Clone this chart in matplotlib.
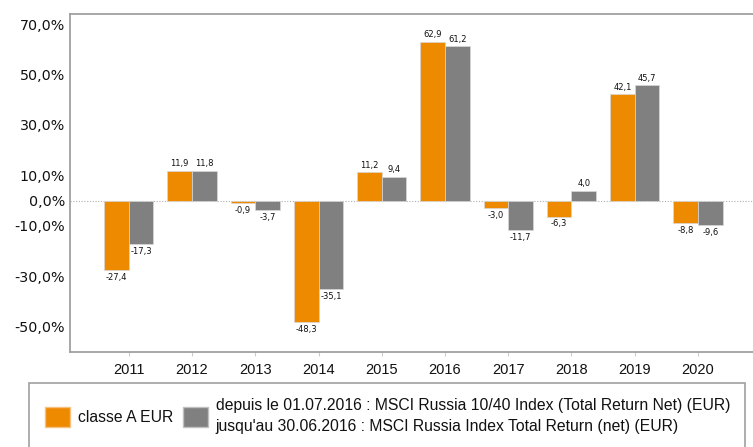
import matplotlib.pyplot as plt
from matplotlib import font_manager
from matplotlib.patches import Patch, Rectangle
import numpy as np

years = ['2011', '2012', '2013', '2014', '2015', '2016', '2017', '2018', '2019', '2020']
fund = [-27.4, 11.9, -0.9, -48.3, 11.2, 62.9, -3.0, -6.3, 42.1, -8.8]
index = [-17.3, 11.8, -3.7, -35.1, 9.4, 61.2, -11.7, 4.0, 45.7, -9.6]
yticks = [70, 50, 30, 10, 0, -10, -30, -50]
fund_label = 'classe A EUR'
index_label = ('depuis le 01.07.2016 : MSCI Russia 10/40 Index (Total Return Net) (EUR)\n'
               "jusqu'au 30.06.2016 : MSCI Russia Index Total Return (net) (EUR)")

orange = '#ee8a00'
grey = '#808080'

# narrow font if there is one, otherwise Liberation Sans a bit smaller
installed = {f.name for f in font_manager.fontManager.ttflist}
if 'Liberation Sans Narrow' in installed:
    narrow, leg_size, xt_size = 'Liberation Sans Narrow', 13, 12
else:
    narrow, leg_size, xt_size = 'Liberation Sans', 11.3, 10.5

fig = plt.figure(figsize=(7.53, 4.47), dpi=100)
ax = fig.add_axes([70 / 753, 1 - 352 / 447, 1 - 70 / 753, (352 - 14) / 447])

x = np.arange(len(years))
w = 0.39
b1 = ax.bar(x - w / 2, fund, w, color=orange, edgecolor='#d8d8d8', linewidth=0.5, zorder=3)
b2 = ax.bar(x + w / 2, index, w, color=grey, edgecolor='#d8d8d8', linewidth=0.5, zorder=3)

def fmt(v):
    return ('%.1f' % v).replace('.', ',')

for bars, vals in ((b1, fund), (b2, index)):
    for r, v in zip(bars, vals):
        cx = r.get_x() + r.get_width() / 2
        if v >= 0:
            ax.annotate(fmt(v), (cx, v), xytext=(0, 2), textcoords='offset points',
                        ha='center', va='bottom', fontsize=6, color='#111111')
        else:
            ax.annotate(fmt(v), (cx, v), xytext=(0, -2), textcoords='offset points',
                        ha='center', va='top', fontsize=6, color='#111111')

ax.axhline(0, color='#b0b0b0', lw=0.8, ls=(0, (1, 1.5)), zorder=1)

ax.set_xlim(-0.93, 9.87)
ax.set_ylim(-60, 74)
ax.set_yticks(yticks)
ax.set_yticklabels([fmt(t) + '%' for t in yticks], fontsize=10.3, color='#111111')
ax.tick_params(axis='y', length=0, pad=3.6)
ax.set_xticks(x)
ax.set_xticklabels(years, fontsize=xt_size, family=narrow, color='#111111')
ax.tick_params(axis='x', length=3, color='#cccccc', pad=5)

for s in ('top', 'left', 'bottom'):
    ax.spines[s].set_color('#a0a0a0')
    ax.spines[s].set_linewidth(1.3)
ax.spines['right'].set_visible(False)

# legend frame runs off the bottom of the picture
fig.patches.append(Rectangle((29 / 753, -0.1), (745 - 29) / 753, 0.1 + 1 - 383 / 447,
                             transform=fig.transFigure, fill=False,
                             edgecolor='#a0a0a0', lw=1.2))
handles = [Patch(facecolor=orange, edgecolor='#f5c080'),
           Patch(facecolor=grey, edgecolor='#c0c0c0')]
leg = fig.legend(handles, [fund_label, index_label], loc='center left',
                 bbox_to_anchor=(45 / 753, 1 - 416 / 447), ncol=2, frameon=False,
                 prop={'family': narrow, 'size': leg_size}, borderpad=0, borderaxespad=0,
                 handlelength=1.6, handleheight=1.6, handletextpad=0.5,
                 columnspacing=0.6, labelspacing=0.2)
for t in leg.get_texts():
    t.set_linespacing(1.5)
    t.set_color('#111111')

fig.savefig('out.png', dpi=100)
